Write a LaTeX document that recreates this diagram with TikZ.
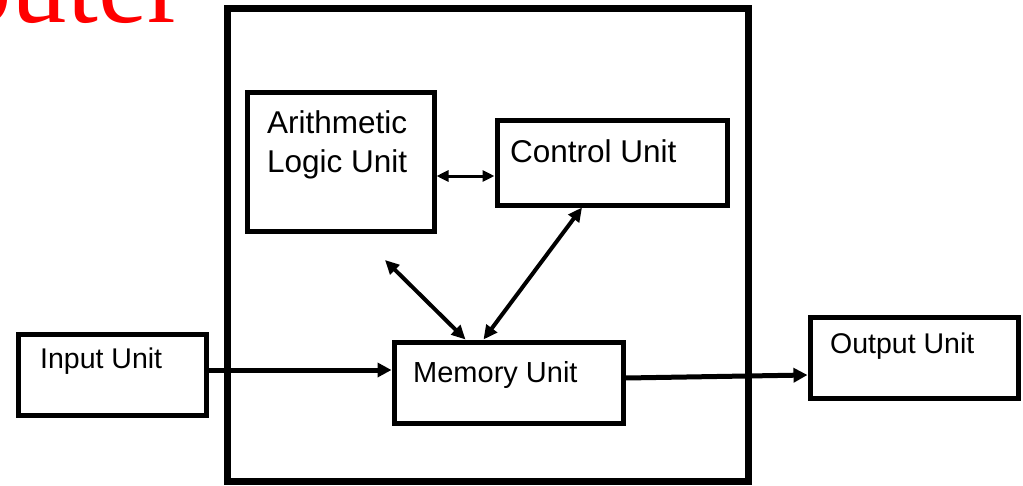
\documentclass[tikz,border=0pt]{standalone}
\usepackage{fontspec}
\setmainfont{Liberation Serif}
\setsansfont{Liberation Sans}
\usetikzlibrary{arrows.meta,calc}
\tikzset{
  unitbox/.style={draw, line width=5pt, minimum width=#1, inner sep=0pt},
  unitlabel/.style={anchor=base west, inner sep=0pt, font=\sffamily\fontsize{#1}{39}\selectfont},
  unitlabel/.default=28.5,
  link/.style={line width=4pt, {Triangle[length=14pt,width=13pt]}-{Triangle[length=14pt,width=13pt]}},
}
\begin{document}
\begin{tikzpicture}[x=1pt,y=-1pt]
  \useasboundingbox (0,0) rectangle (1023,485);
  \clip (0,0) rectangle (1023,485);
  \node[anchor=base west, inner sep=0pt, text=red, font=\rmfamily\fontsize{111}{111}\selectfont] (title) at (-44,22) {puter};
  % computer frame
  \draw[line width=7pt] (227,8) rectangle (748,481);
  \node[unitbox=187pt, minimum height=139pt] (alu) at (340.5,161.5) {};
  \node[unitbox=230pt, minimum height=85pt] (cu) at (612,162.5) {};
  \node[unitbox=188pt, minimum height=81pt] (input) at (112,374.5) {};
  \node[unitbox=229pt, minimum height=81pt] (mem) at (508.5,382.5) {};
  \node[unitbox=208pt, minimum height=81pt] (output) at (914,357.5) {};
  \node[unitlabel=31.5] at (267,133) {Arithmetic};
  \node[unitlabel=31.5] at (267,172) {Logic Unit};
  \node[unitlabel=31.5] at (510,162) {Control Unit};
  \node[unitlabel] at (40,368) {Input Unit};
  \node[unitlabel=29] at (413,382) {Memory Unit};
  \node[unitlabel] at (830,353) {Output Unit};
  % connections
  \coordinate (aluend) at (385,260);
  \draw[line width=3pt, {Triangle[length=12pt,width=11pt]}-{Triangle[length=12pt,width=11pt]}] (alu.east |- 0,176) -- (cu.west |- 0,176);
  \draw[link] (aluend) -- ($(mem.north)+(-43,0)$);
  \draw[link] ($(cu.south)+(-30,0)$) -- ($(mem.north)+(-25,0)$);
  \draw[line width=5pt, -{Triangle[length=14pt,width=14pt]}] (input.east |- 0,370) -- (mem.west |- 0,370);
  \draw[line width=5pt, -{Triangle[length=14pt,width=14pt]}] (mem.east |- 0,378) -- (output.west |- 0,375);
\end{tikzpicture}
\end{document}
